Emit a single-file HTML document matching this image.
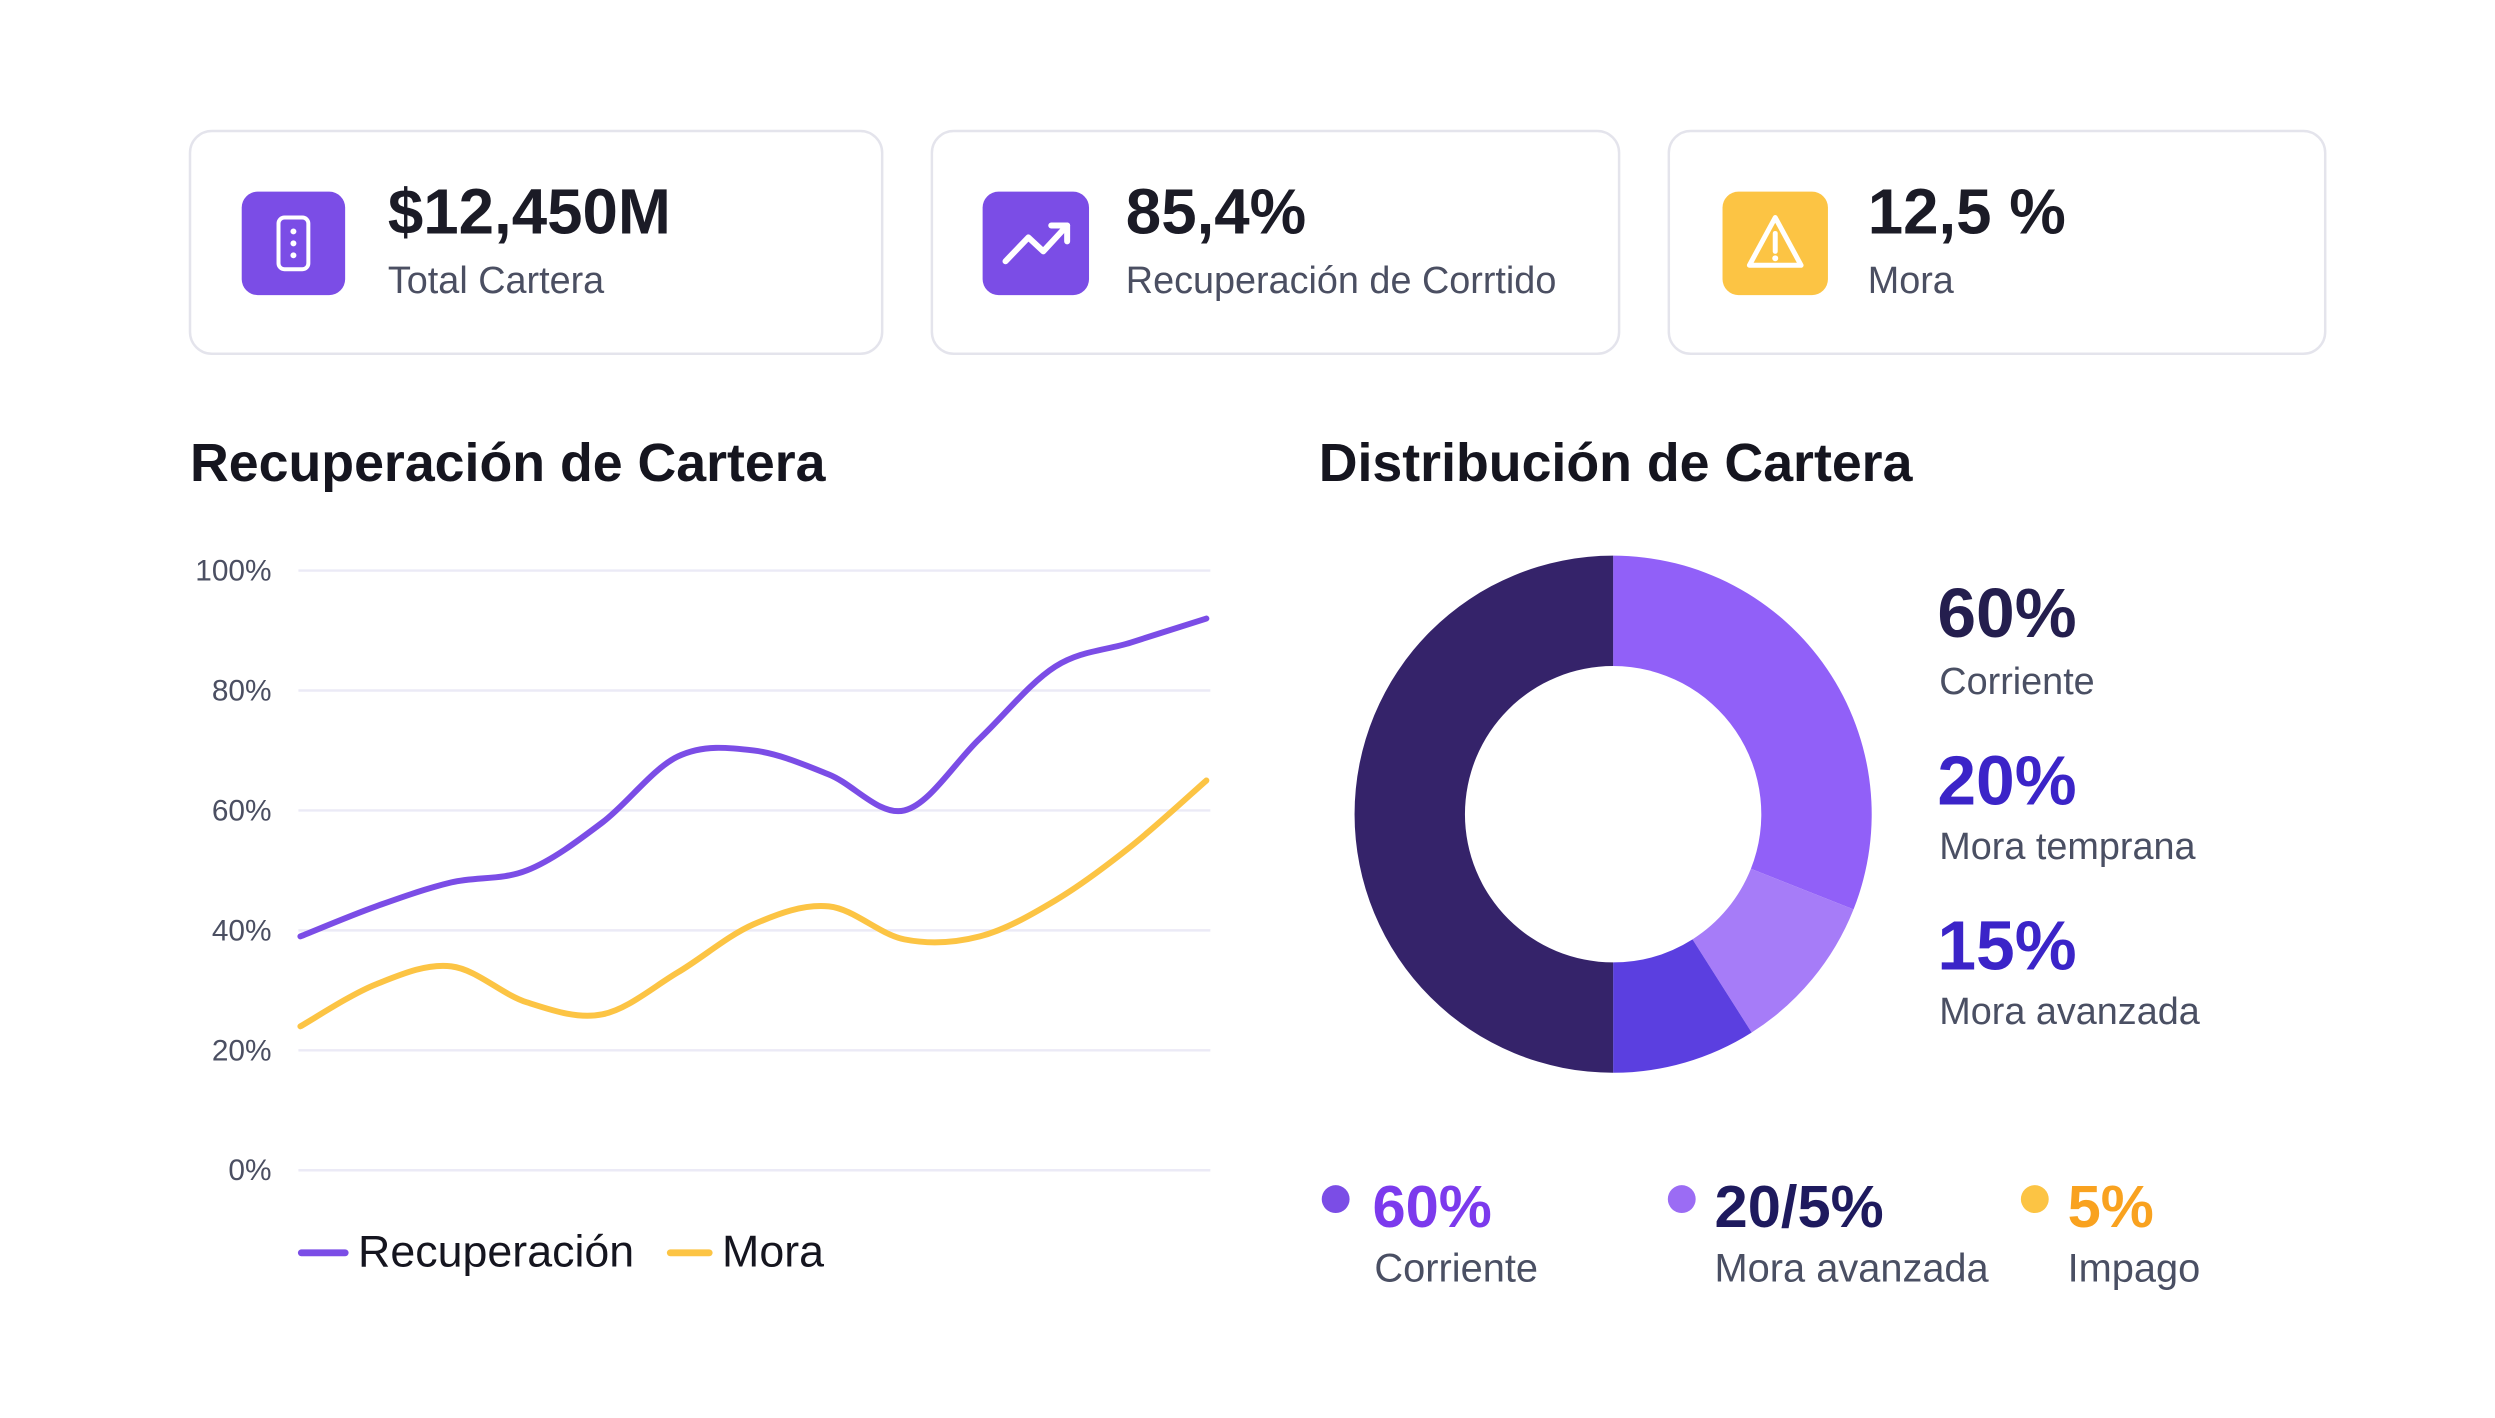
<!DOCTYPE html>
<html><head><meta charset="utf-8"><style>
html,body{margin:0;padding:0;background:#fff;}
svg{display:block;font-family:"Liberation Sans",sans-serif;}
</style></head><body>
<svg id="root" width="2495" height="1418" viewBox="0 0 2495 1418" xmlns="http://www.w3.org/2000/svg">
<rect width="2495" height="1418" fill="#ffffff"/>
<g transform="translate(190,131) scale(0.9945) translate(-190,-131)">
<g>
<rect x="190" y="131" width="696" height="224" rx="22" fill="#fff" stroke="#e4e4ec" stroke-width="2.5"/>
<rect x="242" y="192" width="104" height="104" rx="16" fill="#7b4de6"/>
<rect x="279" y="218" width="30" height="52" rx="6" fill="none" stroke="#fff" stroke-width="4"/>
<circle cx="294" cy="232" r="3" fill="#fff"/><circle cx="294" cy="244" r="3" fill="#fff"/><circle cx="294" cy="256" r="3" fill="#fff"/>
<text x="389" y="234" font-size="64" font-weight="bold" fill="#1b1b26">$12,450M</text>
<text x="389" y="294" font-size="38" fill="#4b4f62">Total Cartera</text>
</g>
<g>
<rect x="936" y="131" width="691" height="224" rx="22" fill="#fff" stroke="#e4e4ec" stroke-width="2.5"/>
<rect x="987" y="192" width="107" height="104" rx="16" fill="#7b4de6"/>
<polyline points="1010,262 1033,238 1048,252 1072,226" fill="none" stroke="#fff" stroke-width="6" stroke-linecap="round" stroke-linejoin="round"/>
<polyline points="1056,226 1072,226 1072,242" fill="none" stroke="#fff" stroke-width="6" stroke-linecap="round" stroke-linejoin="round"/>
<text x="1131" y="234" font-size="64" font-weight="bold" fill="#1b1b26">85,4%</text>
<text x="1131" y="294" font-size="38" fill="#4b4f62">Recuperación de Corrtido</text>
</g>
<g>
<rect x="1677" y="131" width="660" height="224" rx="22" fill="#fff" stroke="#e4e4ec" stroke-width="2.5"/>
<rect x="1731" y="192" width="106" height="104" rx="16" fill="#fcc444"/>
<path d="M1784,218 L1810,266 L1758,266 Z" fill="none" stroke="#fff" stroke-width="5" stroke-linejoin="round"/>
<line x1="1784" y1="234" x2="1784" y2="252" stroke="#fff" stroke-width="5" stroke-linecap="round"/>
<circle cx="1784" cy="259" r="3" fill="#fff"/>
<text x="1877" y="234" font-size="64" font-weight="bold" fill="#1b1b26">12,5 %</text>
<text x="1877" y="294" font-size="38" fill="#4b4f62">Mora</text>
</g>
<text x="190" y="483" font-size="54" font-weight="bold" fill="#15151f">Recuperación de Cartera</text>
<text x="1325" y="483" font-size="54" font-weight="bold" fill="#15151f">Distribución de Cartera</text>
<g id="line-chart"></g>
<g id="donut"></g>
<text x="1947" y="640" font-size="70" font-weight="bold" fill="#241e4e">60%</text>
<text x="1949" y="697" font-size="38" fill="#4a4f63">Corriente</text>
<text x="1947" y="808" font-size="70" font-weight="bold" fill="#3b24c8">20%</text>
<text x="1949" y="863" font-size="38" fill="#4a4f63">Mora temprana</text>
<text x="1947" y="974" font-size="70" font-weight="bold" fill="#3b24c8">15%</text>
<text x="1949" y="1029" font-size="38" fill="#4a4f63">Mora  avanzada</text>
<g>
<circle cx="1342" cy="1205" r="14" fill="#7b4de6"/>
<text x="1379" y="1233" font-size="60" font-weight="bold" fill="#7c3aed">60%</text>
<text x="1381" y="1288" font-size="40" fill="#4a4f63">Corriente</text>
</g>
<g>
<circle cx="1690" cy="1205" r="14" fill="#9b6cf4"/>
<text x="1723" y="1233" font-size="60" font-weight="bold" fill="#1e1a5e">20/5%</text>
<text x="1723" y="1288" font-size="40" fill="#4a4f63">Mora avanzada</text>
</g>
<g>
<circle cx="2045" cy="1205" r="14" fill="#fcc444"/>
<text x="2078" y="1233" font-size="60" font-weight="bold" fill="#f9a21f">5%</text>
<text x="2078" y="1288" font-size="40" fill="#4a4f63">Impago</text>
</g>
</g>
</svg>
<script>
const categories = ["P1","P2","P3","P4","P5","P6","P7","P8","P9","P10","P11","P12","P13"];
const recuperacion = [39, 44, 48, 50, 58, 69, 70, 66, 60, 72, 84, 88, 92];
const mora = [24, 31, 34, 28, 26, 33, 41, 44, 38.5, 39, 45, 54, 65];
const yTicks = [0, 20, 40, 60, 80, 100];
const yTickLabels = ["0%","20%","40%","60%","80%","100%"];
const donutValues = [31, 10, 9, 50];
const donutNames = ["mora-temprana","mora-avanzada","impago","corriente"];
const donutColors = ["#9160f8","#a67cf8","#5b3fe0","#35236a"];

const NS = "http://www.w3.org/2000/svg";
function mk(tag, attrs, parent){const e=document.createElementNS(NS,tag);for(const k in attrs)e.setAttribute(k,attrs[k]);parent.appendChild(e);return e;}
const X0=301, X1=1212, Y0=1176, Y100=573;
const xs = i => X0 + (X1-X0)*i/(categories.length-1);
const ys = v => Y0 + (Y100-Y0)*v/100;
const lc = document.getElementById('line-chart');
yTicks.forEach((t,i)=>{
  const g = mk('line',{x1:299,x2:1216,y1:ys(t),y2:ys(t),stroke:'#ebeaf6','stroke-width':2.5},lc);
  
  
  const tx = mk('text',{x:272,y:ys(t)+10,'font-size':30,fill:'#4b4f62','text-anchor':'end'},lc);
  tx.textContent = yTickLabels[i];
  
  
});
function smooth(vals){
  const p = vals.map((v,i)=>[xs(i),ys(v)]);
  let d = `M${p[0][0]},${p[0][1]}`;
  for(let i=0;i<p.length-1;i++){
    const a=p[i-1]||p[i], b=p[i], c=p[i+1], e=p[i+2]||c;
    const c1=[b[0]+(c[0]-a[0])/6, b[1]+(c[1]-a[1])/6];
    const c2=[c[0]-(e[0]-b[0])/6, c[1]-(e[1]-b[1])/6];
    d+=` C${c1[0]},${c1[1]} ${c2[0]},${c2[1]} ${c[0]},${c[1]}`;
  }
  return d;
}
const l1 = mk('path',{d:smooth(mora),fill:'none',stroke:'#fcc444','stroke-width':6,'stroke-linecap':'round'},lc);


const l2 = mk('path',{d:smooth(recuperacion),fill:'none',stroke:'#7b4de6','stroke-width':6,'stroke-linecap':'round'},lc);


const lg1 = mk('line',{x1:302,x2:346,y1:1259,y2:1259,stroke:'#7b4de6','stroke-width':7,'stroke-linecap':'round'},lc);


const lt1 = mk('text',{x:359,y:1273,'font-size':45,fill:'#15151f'},lc); lt1.textContent='Recuperación';


const lg2 = mk('line',{x1:673,x2:712,y1:1259,y2:1259,stroke:'#fcc444','stroke-width':7,'stroke-linecap':'round'},lc);


const lt2 = mk('text',{x:725,y:1273,'font-size':45,fill:'#15151f'},lc); lt2.textContent='Mora';


const dg = document.getElementById('donut');
const CX=1621, CY=818, R=260, RI=149;
const total = donutValues.reduce((a,b)=>a+b,0);
let acc=0;
function pt(r,a){return [CX+r*Math.sin(a), CY-r*Math.cos(a)];}
donutValues.forEach((v,i)=>{
  const a0=acc/total*2*Math.PI; acc+=v; const a1=acc/total*2*Math.PI;
  const large=(a1-a0)>Math.PI?1:0;
  const p0=pt(R,a0),p1=pt(R,a1),q1=pt(RI,a1),q0=pt(RI,a0);
  const s = mk('path',{d:`M${p0[0]},${p0[1]} A${R},${R} 0 ${large} 1 ${p1[0]},${p1[1]} L${q1[0]},${q1[1]} A${RI},${RI} 0 ${large} 0 ${q0[0]},${q0[1]} Z`,fill:donutColors[i]},dg);
  
  
});
</script>
</body></html>
